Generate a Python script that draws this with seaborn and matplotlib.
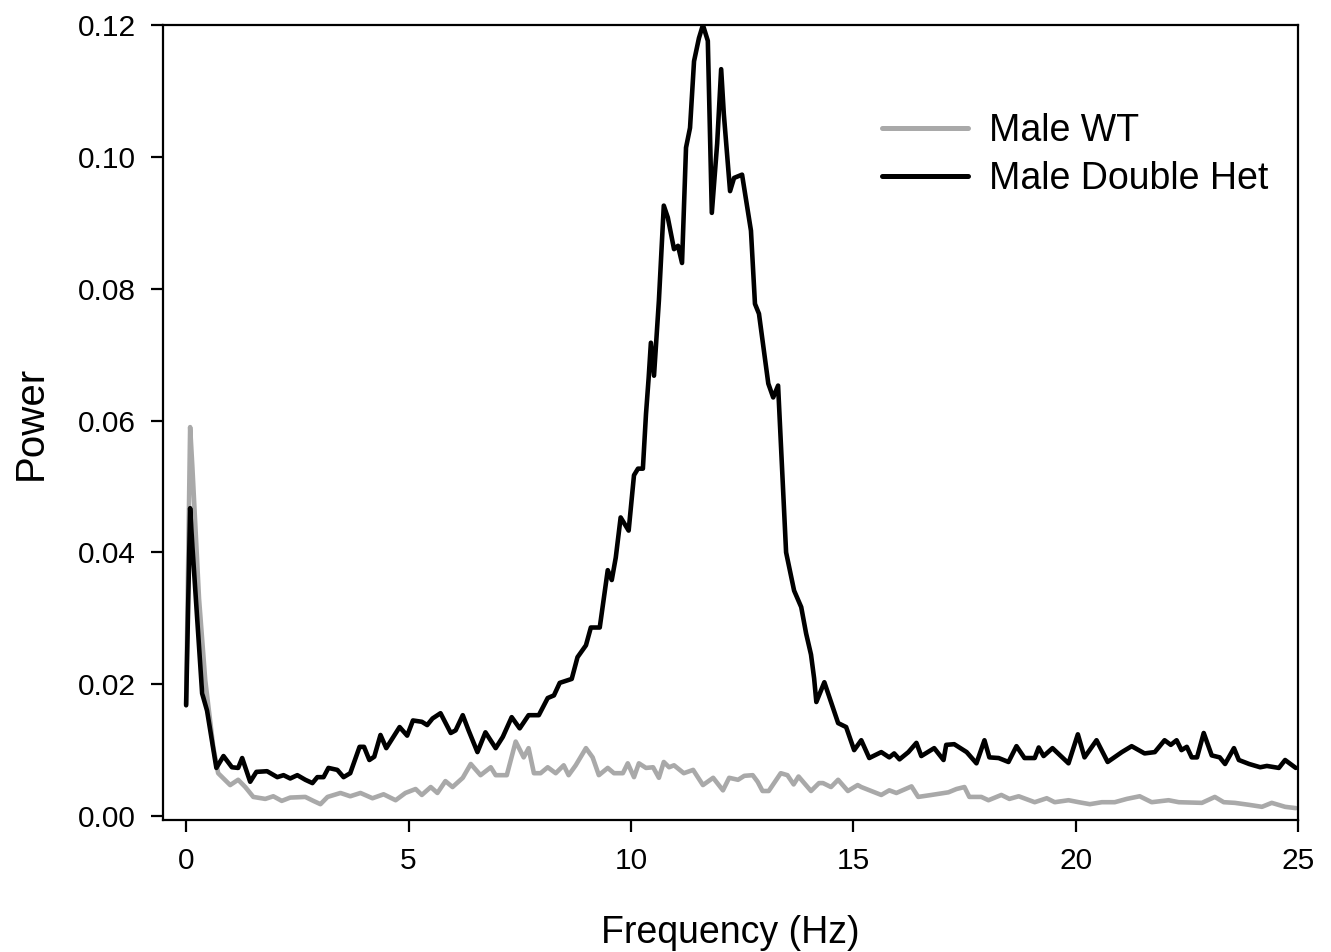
import numpy as np
import pandas as pd
import matplotlib
matplotlib.use("Agg")
import matplotlib.pyplot as plt
import seaborn as sns

# ---- data ----
wt_freq = [0.00, 0.09, 0.14, 0.29, 0.43, 0.61, 0.72, 0.99, 1.17, 1.33, 1.51, 1.78, 1.96, 2.15, 2.34,
           2.68, 2.86, 3.02, 3.18, 3.47, 3.69, 3.92, 4.19, 4.44, 4.71, 4.93, 5.16, 5.30, 5.50, 5.65,
           5.83, 5.99, 6.22, 6.40, 6.62, 6.85, 6.96, 7.21, 7.41, 7.59, 7.70, 7.82, 7.97, 8.13, 8.31,
           8.49, 8.60, 8.76, 8.99, 9.14, 9.28, 9.48, 9.62, 9.82, 9.93, 10.07, 10.18, 10.34, 10.50,
           10.63, 10.74, 10.86, 10.97, 11.19, 11.40, 11.62, 11.85, 12.07, 12.21, 12.41, 12.55, 12.74,
           12.85, 12.96, 13.10, 13.37, 13.52, 13.66, 13.77, 14.05, 14.23, 14.32, 14.50, 14.66, 14.88,
           15.10, 15.18, 15.63, 15.81, 15.97, 16.31, 16.46, 16.76, 17.14, 17.32, 17.50, 17.61, 17.88,
           18.04, 18.33, 18.51, 18.72, 19.08, 19.35, 19.53, 19.84, 20.07, 20.32, 20.59, 20.88, 21.15,
           21.44, 21.71, 22.09, 22.32, 22.84, 23.13, 23.33, 23.58, 23.90, 24.19, 24.41, 24.71, 24.95]
wt_power = [0.0170, 0.0590, 0.0530, 0.0330, 0.0206, 0.0105, 0.0065, 0.0047, 0.0055, 0.0044, 0.0029,
            0.0026, 0.0030, 0.0023, 0.0028, 0.0029, 0.0023, 0.0018, 0.0029, 0.0035, 0.0030, 0.0035,
            0.0027, 0.0033, 0.0024, 0.0035, 0.0041, 0.0032, 0.0044, 0.0035, 0.0053, 0.0044, 0.0058,
            0.0079, 0.0062, 0.0074, 0.0062, 0.0062, 0.0113, 0.0089, 0.0103, 0.0065, 0.0065, 0.0074,
            0.0065, 0.0077, 0.0062, 0.0077, 0.0103, 0.0089, 0.0062, 0.0073, 0.0065, 0.0065, 0.0080,
            0.0059, 0.0080, 0.0073, 0.0074, 0.0058, 0.0082, 0.0074, 0.0077, 0.0065, 0.0070, 0.0047,
            0.0058, 0.0039, 0.0058, 0.0055, 0.0061, 0.0062, 0.0052, 0.0038, 0.0038, 0.0065, 0.0062,
            0.0048, 0.0060, 0.0038, 0.0050, 0.0050, 0.0044, 0.0055, 0.0038, 0.0047, 0.0044, 0.0032,
            0.0039, 0.0035, 0.0045, 0.0029, 0.0032, 0.0036, 0.0041, 0.0044, 0.0029, 0.0029, 0.0024,
            0.0032, 0.0026, 0.0030, 0.0021, 0.0027, 0.0021, 0.0024, 0.0021, 0.0018, 0.0021, 0.0021,
            0.0026, 0.0030, 0.0021, 0.0024, 0.0021, 0.0020, 0.0029, 0.0021, 0.0020, 0.0017, 0.0014,
            0.0020, 0.0014, 0.0012]

dh_freq = [0.00, 0.09, 0.14, 0.36, 0.47, 0.68, 0.84, 1.03, 1.17, 1.26, 1.44, 1.58, 1.82, 2.05, 2.19,
           2.34, 2.50, 2.68, 2.84, 2.95, 3.09, 3.20, 3.40, 3.54, 3.69, 3.90, 4.00, 4.12, 4.23, 4.37,
           4.50, 4.80, 4.97, 5.10, 5.30, 5.42, 5.54, 5.72, 5.95, 6.06, 6.22, 6.35, 6.55, 6.73, 6.96,
           7.12, 7.32, 7.50, 7.70, 7.93, 8.13, 8.27, 8.40, 8.67, 8.80, 8.99, 9.10, 9.30, 9.48, 9.57,
           9.66, 9.77, 9.95, 10.07, 10.16, 10.27, 10.34, 10.40, 10.45, 10.52, 10.63, 10.74, 10.83,
           10.97, 11.06, 11.15, 11.24, 11.33, 11.42, 11.53, 11.62, 11.73, 11.82, 11.94, 12.03, 12.09,
           12.23, 12.32, 12.50, 12.70, 12.79, 12.88, 13.09, 13.20, 13.31, 13.49, 13.67, 13.83, 13.94,
           14.05, 14.12, 14.17, 14.35, 14.66, 14.84, 15.02, 15.18, 15.36, 15.63, 15.81, 15.92, 16.04,
           16.24, 16.42, 16.53, 16.82, 17.03, 17.09, 17.27, 17.55, 17.77, 17.95, 18.06, 18.27, 18.49,
           18.67, 18.85, 19.08, 19.17, 19.28, 19.48, 19.84, 20.05, 20.20, 20.47, 20.72, 21.04, 21.26,
           21.55, 21.78, 22.00, 22.14, 22.27, 22.38, 22.50, 22.61, 22.73, 22.88, 23.06, 23.24, 23.36,
           23.56, 23.67, 23.90, 24.15, 24.30, 24.57, 24.71, 24.95]
dh_power = [0.0168, 0.0467, 0.0410, 0.0186, 0.0160, 0.0073, 0.0091, 0.0074, 0.0073, 0.0088, 0.0052,
            0.0067, 0.0068, 0.0059, 0.0062, 0.0057, 0.0062, 0.0055, 0.0050, 0.0059, 0.0059, 0.0073,
            0.0070, 0.0059, 0.0065, 0.0105, 0.0105, 0.0085, 0.0090, 0.0123, 0.0103, 0.0135, 0.0122,
            0.0145, 0.0143, 0.0138, 0.0148, 0.0156, 0.0126, 0.0130, 0.0153, 0.0130, 0.0097, 0.0127,
            0.0103, 0.0120, 0.0150, 0.0133, 0.0153, 0.0153, 0.0179, 0.0183, 0.0202, 0.0208, 0.0241,
            0.0259, 0.0286, 0.0286, 0.0373, 0.0358, 0.0392, 0.0453, 0.0433, 0.0517, 0.0527, 0.0527,
            0.0610, 0.0665, 0.0718, 0.0668, 0.0782, 0.0926, 0.0908, 0.0860, 0.0865, 0.0839, 0.1014,
            0.1044, 0.1145, 0.1180, 0.1200, 0.1176, 0.0915, 0.1020, 0.1133, 0.1065, 0.0948, 0.0968,
            0.0973, 0.0888, 0.0777, 0.0762, 0.0656, 0.0635, 0.0653, 0.0400, 0.0342, 0.0317, 0.0277,
            0.0245, 0.0209, 0.0173, 0.0203, 0.0141, 0.0135, 0.0100, 0.0115, 0.0088, 0.0097, 0.0089,
            0.0095, 0.0086, 0.0097, 0.0111, 0.0091, 0.0103, 0.0085, 0.0108, 0.0109, 0.0097, 0.0080,
            0.0115, 0.0089, 0.0088, 0.0082, 0.0106, 0.0088, 0.0088, 0.0104, 0.0091, 0.0103, 0.0080,
            0.0124, 0.0089, 0.0115, 0.0082, 0.0097, 0.0106, 0.0095, 0.0097, 0.0115, 0.0108, 0.0115,
            0.0100, 0.0105, 0.0089, 0.0089, 0.0126, 0.0092, 0.0089, 0.0079, 0.0103, 0.0085, 0.0079,
            0.0074, 0.0076, 0.0073, 0.0085, 0.0073]

series_names = ["Male WT", "Male Double Het"]
series_colors = ["#a9a9a9", "#000000"]
x_ticks = [0, 5, 10, 15, 20, 25]
y_ticks = [0.00, 0.02, 0.04, 0.06, 0.08, 0.10, 0.12]

df = pd.concat([
    pd.DataFrame({"Frequency (Hz)": wt_freq, "Power": wt_power, "Group": series_names[0]}),
    pd.DataFrame({"Frequency (Hz)": dh_freq, "Power": dh_power, "Group": series_names[1]}),
], ignore_index=True)

sns.set_theme(style="ticks")
plt.rcParams["font.family"] = ["Liberation Sans", "DejaVu Sans"]
plt.rcParams["text.color"] = "black"
plt.rcParams["axes.labelcolor"] = "black"
plt.rcParams["xtick.color"] = "black"
plt.rcParams["ytick.color"] = "black"

fig = plt.figure(figsize=(13.31, 9.52), dpi=100)
ax = fig.add_axes([163 / 1331, 1 - 820 / 952, (1298 - 163) / 1331, (820 - 25) / 952])

sns.lineplot(data=df, x="Frequency (Hz)", y="Power", hue="Group",
             hue_order=series_names, palette=dict(zip(series_names, series_colors)),
             estimator=None, sort=False, ax=ax)
for ln in ax.lines:
    ln.set_linewidth(3.3)
    ln.set_solid_joinstyle("round")
    ln.set_solid_capstyle("round")

ax.set_xlim(-0.52, 25.0)
ax.set_ylim(-0.0006, 0.12)
ax.set_xticks(x_ticks)
ax.set_xticklabels([str(t) for t in x_ticks])
ax.set_yticks(y_ticks)
ax.set_yticklabels([f"{t:.2f}" for t in y_ticks])

for s in ax.spines.values():
    s.set_visible(True)
    s.set_linewidth(1.6)
    s.set_color("black")

ax.tick_params(axis="both", direction="out", length=8.5, width=1.6, colors="black",
               labelcolor="black", labelsize=21.5, pad=11)
ax.set_xlabel("Frequency (Hz)", fontsize=27, labelpad=29, color="black")
ax.set_ylabel("Power", fontsize=29, labelpad=20, color="black")

handles, labels = ax.get_legend_handles_labels()
for h in handles:
    h.set_linewidth(3.6)
leg = ax.legend(handles, labels, loc="upper left", bbox_to_anchor=(0.6335, 0.889),
                frameon=False, fontsize=27, handlelength=2.3, handletextpad=0.55,
                labelspacing=0.31, borderpad=0, borderaxespad=0)
for t in leg.get_texts():
    t.set_color("black")

fig.savefig("out.png", dpi=100)
